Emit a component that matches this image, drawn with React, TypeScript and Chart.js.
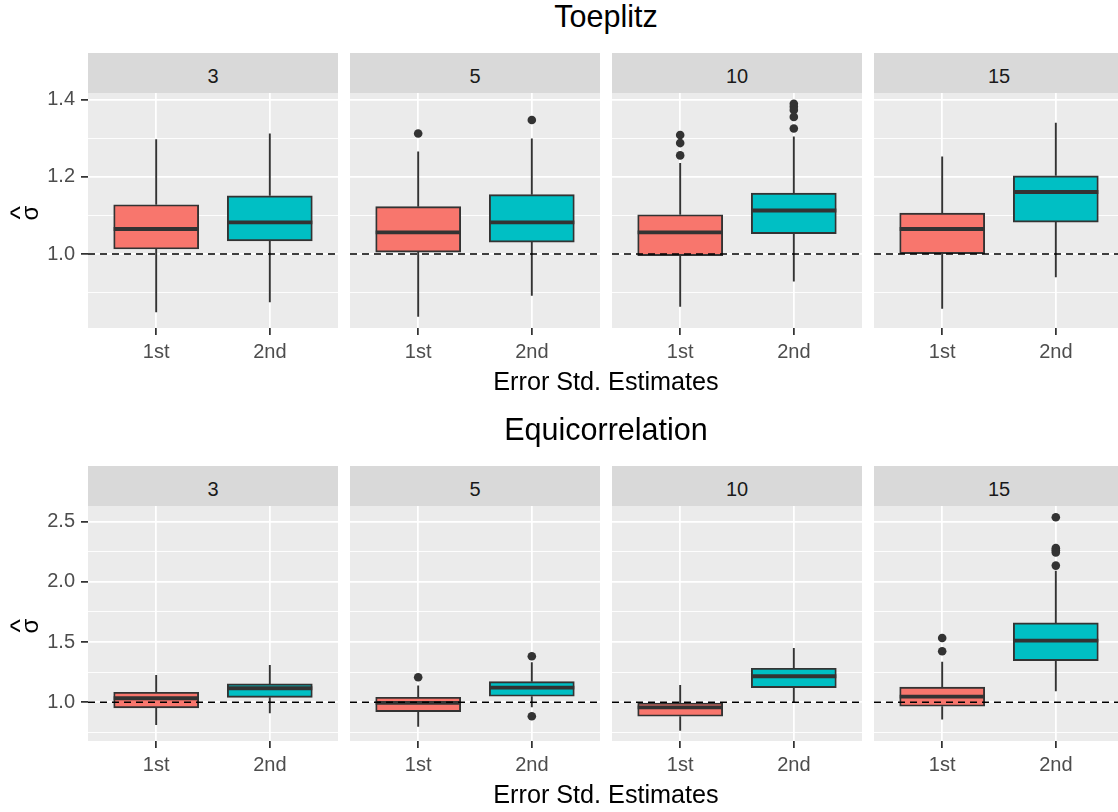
import React, { useEffect, useRef } from 'react';
import { Chart, registerables } from 'chart.js';

Chart.register(...registerables);

// ---------------- data ----------------
const categories = ['1st', '2nd'];
const facetLabels = ['3', '5', '10', '15'];
const rowTitles = ['Toeplitz', 'Equicorrelation'];
const xAxisTitle = 'Error Std. Estimates';
const yAxisSymbol = 'σ';
const yAxisHat = '^';
const referenceValue = 1.0;
const boxColors = ['#F8766D', '#00BFC4'];

// Toeplitz: per facet -> [1st, 2nd]
const toeplitzLower = [[0.849, 0.875], [0.837, 0.892], [0.863, 0.929], [0.858, 0.94]];
const toeplitzQ1 = [[1.013, 1.034], [1.005, 1.031], [0.996, 1.053], [1.001, 1.083]];
const toeplitzMedian = [[1.065, 1.082], [1.056, 1.082], [1.056, 1.113], [1.065, 1.161]];
const toeplitzQ3 = [[1.128, 1.151], [1.123, 1.154], [1.102, 1.158], [1.106, 1.203]];
const toeplitzUpper = [[1.298, 1.313], [1.266, 1.3], [1.236, 1.305], [1.253, 1.341]];
const toeplitzOutliers = [
  [[], []],
  [[1.313], [1.348]],
  [[1.309, 1.288, 1.256], [1.39, 1.382, 1.374, 1.356, 1.326]],
  [[], []],
];
const toeplitzYRange = [0.808, 1.418];
const toeplitzMajorTicks = [1.0, 1.2, 1.4];
const toeplitzMinorTicks = [0.9, 1.1, 1.3];

// Equicorrelation
const equiLower = [[0.811, 0.909], [0.797, 0.958], [0.764, 1.0], [0.856, 1.091]];
const equiQ1 = [[0.953, 1.041], [0.922, 1.05], [0.884, 1.121], [0.967, 1.346]];
const equiMedian = [[1.033, 1.116], [0.994, 1.121], [0.958, 1.216], [1.047, 1.512]];
const equiQ3 = [[1.083, 1.152], [1.041, 1.171], [0.994, 1.282], [1.125, 1.659]];
const equiUpper = [[1.227, 1.31], [1.138, 1.332], [1.144, 1.451], [1.337, 2.093]];
const equiOutliers = [
  [[], []],
  [[1.208], [1.382, 0.884]],
  [[], []],
  [[1.534, 1.424], [2.537, 2.28, 2.262, 2.244, 2.135]],
];
const equiYRange = [0.678, 2.63];
const equiMajorTicks = [1.0, 1.5, 2.0, 2.5];
const equiMinorTicks = [0.75, 1.25, 1.75, 2.25];

const rows = [
  {
    lower: toeplitzLower, q1: toeplitzQ1, median: toeplitzMedian, q3: toeplitzQ3, upper: toeplitzUpper,
    outliers: toeplitzOutliers, yRange: toeplitzYRange, major: toeplitzMajorTicks, minor: toeplitzMinorTicks,
  },
  {
    lower: equiLower, q1: equiQ1, median: equiMedian, q3: equiQ3, upper: equiUpper,
    outliers: equiOutliers, yRange: equiYRange, major: equiMajorTicks, minor: equiMinorTicks,
  },
];

// ---------------- layout / style ----------------
const FONT = '"Liberation Sans", Arial, sans-serif';
const PANEL_LEFTS = [88, 350, 612, 874];
const PANEL_W = 250;
const STRIP_TOPS = [53.3, 466.3];
const STRIP_H = 40;
const PLOT_H = 235;
const PAD_TOP = 20;
const X_AXIS_H = 45;
const Y_AXIS_W = 88;
const ROW_OFFSET = 413;
const BOX_WIDTH = 85;
const TICK_FONT = 20;

const isIn = (arr: number[], v: number) => arr.some((a) => Math.abs(a - v) < 1e-9);

function Panel({ row, facet }: { row: number; facet: number }) {
  const ref = useRef<HTMLCanvasElement>(null);
  const isLeft = facet === 0;
  const plotTop = STRIP_TOPS[row] + STRIP_H;
  const left = isLeft ? 0 : PANEL_LEFTS[facet];
  const width = isLeft ? Y_AXIS_W + PANEL_W : PANEL_W;
  const height = PAD_TOP + PLOT_H + X_AXIS_H;
  const top = plotTop - PAD_TOP;

  useEffect(() => {
    const r = rows[row];
    const f = facet;
    const allTicks = [...r.major, ...r.minor].sort((a, b) => a - b);

    const extras = {
      id: 'boxExtras',
      beforeDraw(chart: any) {
        const { ctx, chartArea } = chart;
        ctx.save();
        ctx.fillStyle = '#EBEBEB';
        ctx.fillRect(chartArea.left, chartArea.top, chartArea.right - chartArea.left, chartArea.bottom - chartArea.top);
        ctx.restore();
      },
      afterDatasetsDraw(chart: any) {
        const { ctx, chartArea } = chart;
        const xs = chart.scales.x;
        const ys = chart.scales.y;
        const meta = chart.getDatasetMeta(0);
        ctx.save();
        ctx.strokeStyle = '#333333';
        ctx.lineCap = 'butt';
        categories.forEach((_, i) => {
          const px = xs.getPixelForValue(i + 1);
          ctx.lineWidth = 1.9;
          ctx.beginPath();
          ctx.moveTo(px, ys.getPixelForValue(r.upper[f][i]));
          ctx.lineTo(px, ys.getPixelForValue(r.q3[f][i]));
          ctx.moveTo(px, ys.getPixelForValue(r.q1[f][i]));
          ctx.lineTo(px, ys.getPixelForValue(r.lower[f][i]));
          ctx.stroke();
          const bar = meta.data[i];
          const half = bar.width / 2;
          const my = ys.getPixelForValue(r.median[f][i]);
          ctx.lineWidth = 3.8;
          ctx.beginPath();
          ctx.moveTo(px - half, my);
          ctx.lineTo(px + half, my);
          ctx.stroke();
        });
        // dashed reference line
        const ry = ys.getPixelForValue(referenceValue);
        ctx.strokeStyle = '#000000';
        ctx.lineWidth = 1.6;
        ctx.setLineDash([7, 5]);
        ctx.beginPath();
        ctx.moveTo(chartArea.left, ry);
        ctx.lineTo(chartArea.right, ry);
        ctx.stroke();
        ctx.restore();
      },
    };

    const chart = new Chart(ref.current as HTMLCanvasElement, {
      type: 'bar',
      data: {
        datasets: [
          {
            type: 'bar',
            data: categories.map((_, i) => ({ x: i + 1, y: [r.q1[f][i], r.q3[f][i]] })) as any,
            backgroundColor: boxColors,
            borderColor: '#333333',
            borderWidth: 1.9,
            borderSkipped: false,
            barThickness: BOX_WIDTH,
          } as any,
          {
            type: 'scatter',
            data: r.outliers[f].flatMap((vals: number[], i: number) => vals.map((v) => ({ x: i + 1, y: v }))),
            pointRadius: 4.3,
            pointBackgroundColor: '#333333',
            pointBorderWidth: 0,
            pointBorderColor: '#333333',
          } as any,
        ],
      },
      options: {
        animation: false,
        responsive: false,
        devicePixelRatio: 1,
        layout: { autoPadding: false, padding: { top: PAD_TOP, left: 0, right: 0, bottom: 0 } },
        plugins: { legend: { display: false }, tooltip: { enabled: false } },
        events: [],
        scales: {
          x: {
            type: 'linear',
            min: 0.4,
            max: 2.6,
            offset: false,
            afterBuildTicks: (s: any) => {
              s.ticks = categories.map((_, i) => ({ value: i + 1 }));
            },
            afterFit: (s: any) => {
              s.height = X_AXIS_H;
              s.paddingLeft = 0;
              s.paddingRight = 0;
            },
            ticks: {
              callback: (v: any) => categories[Math.round(Number(v)) - 1] ?? '',
              autoSkip: false,
              maxRotation: 0,
              minRotation: 0,
              padding: 5,
              color: '#4D4D4D',
              font: { family: FONT, size: TICK_FONT },
            },
            grid: {
              color: '#FFFFFF',
              lineWidth: 1.75,
              offset: false,
              drawTicks: true,
              tickLength: 7,
              tickColor: '#333333',
              tickWidth: 1.75,
            },
            border: { display: false },
          } as any,
          y: {
            type: 'linear',
            min: r.yRange[0],
            max: r.yRange[1],
            afterBuildTicks: (s: any) => {
              s.ticks = allTicks.map((v) => ({ value: v }));
            },
            afterFit: (s: any) => {
              s.width = isLeft ? Y_AXIS_W : 0;
              s.paddingTop = 0;
              s.paddingBottom = 0;
            },
            ticks: {
              display: isLeft,
              callback: (v: any) => (isIn(r.major, Number(v)) ? Number(v).toFixed(1) : ''),
              padding: 6,
              color: '#4D4D4D',
              font: { family: FONT, size: TICK_FONT },
            },
            grid: {
              color: '#FFFFFF',
              lineWidth: (c: any) => (c.tick && isIn(r.major, c.tick.value) ? 1.75 : 0.9),
              drawTicks: isLeft,
              tickLength: 7,
              tickColor: (c: any) => (c.tick && isIn(r.major, c.tick.value) ? '#333333' : 'rgba(0,0,0,0)'),
              tickWidth: 1.75,
            },
            border: { display: false },
          } as any,
        },
      },
      plugins: [extras as any],
    });
    return () => chart.destroy();
  }, [row, facet]);

  return (
    <canvas
      ref={ref}
      width={width}
      height={height}
      style={{ position: 'absolute', left, top, width, height }}
    />
  );
}

function Label({ x, y, size, color, text, rotate = 0 }: any) {
  return (
    <div
      style={{
        position: 'absolute',
        left: x,
        top: y,
        transform: `translate(-50%, -50%) rotate(${rotate}deg)`,
        fontFamily: FONT,
        fontSize: size,
        lineHeight: 1,
        color,
        whiteSpace: 'nowrap',
      }}
    >
      {text}
    </div>
  );
}

function SigmaHat({ x, y }: { x: number; y: number }) {
  return (
    <div
      style={{
        position: 'absolute',
        left: x,
        top: y,
        transform: 'translate(-50%, -50%) rotate(-90deg)',
        fontFamily: FONT,
        color: '#000000',
        display: 'flex',
        flexDirection: 'column',
        alignItems: 'center',
        width: 20,
      }}
    >
      <span style={{ fontSize: 26, lineHeight: '12px', height: 12, overflow: 'visible', transform: 'scaleX(1.1) translateY(4px)' }}>
        {yAxisHat}
      </span>
      <span style={{ fontSize: 24, lineHeight: '16px', height: 16 }}>{yAxisSymbol}</span>
    </div>
  );
}

export default function App() {
  return (
    <div
      style={{
        position: 'absolute',
        left: 0,
        top: 0,
        width: 1118,
        height: 812,
        overflow: 'hidden',
        background: '#FFFFFF',
      }}
    >
      {rows.map((_, row) => (
        <React.Fragment key={row}>
          {facetLabels.map((lab, f) => (
            <React.Fragment key={f}>
              <Panel row={row} facet={f} />
              <div
                style={{
                  position: 'absolute',
                  left: PANEL_LEFTS[f],
                  top: STRIP_TOPS[row],
                  width: PANEL_W,
                  height: STRIP_H,
                  background: '#D9D9D9',
                }}
              />
              <Label x={PANEL_LEFTS[f] + PANEL_W / 2} y={STRIP_TOPS[row] + 23} size={TICK_FONT} color="#1A1A1A" text={lab} />
            </React.Fragment>
          ))}
          <Label x={606} y={15.5 + row * ROW_OFFSET} size={30.5} color="#000000" text={rowTitles[row]} />
          <Label x={606} y={382 + row * ROW_OFFSET} size={25.2} color="#000000" text={xAxisTitle} />
          <SigmaHat x={23.5} y={212.5 + row * ROW_OFFSET} />
        </React.Fragment>
      ))}
    </div>
  );
}
